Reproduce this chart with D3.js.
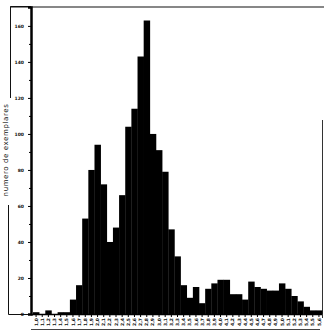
<!DOCTYPE html>
<html>
<head>
<meta charset="utf-8">
<script src="https://cdn.jsdelivr.net/npm/d3@7"></script>
<style>
	body { margin: 0; background: #fff; }
	svg { display: block; }
	text { font-family: "DejaVu Sans", sans-serif; fill: #111; }
</style>
</head>
<body>
<svg width="324" height="331"></svg>
<script>
// size classes (labels under each bar)
const classes = ["1,0","1,1","1,2","1,3","1,4","1,5","1,6","1,7","1,8","1,9",
	"2,0","2,1","2,2","2,3","2,4","2,5","2,6","2,7","2,8","2,9",
	"3,0","3,1","3,2","3,3","3,4","3,5","3,6","3,7","3,8","3,9",
	"4,0","4,1","4,2","4,3","4,4","4,5","4,6","4,7","4,8","4,9",
	"5,0","5,1","5,2","5,3","5,4","5,5","5,6"]
// number of specimens per class
const counts = [1, 0, 2, 0, 1, 1, 8, 16, 53, 80,
	94, 72, 40, 48, 66, 104, 114, 143, 163, 100,
	91, 79, 47, 32, 16, 9, 15, 6, 14, 17,
	19, 19, 11, 11, 8, 18, 15, 14, 13, 13,
	17, 14, 10, 7, 4, 2, 2]
const yTicks = [0, 20, 40, 60, 80, 100, 120, 140, 160]
const yLabel = "numero de exemplares"

const svg = d3.select("svg")
const m = {left: 31, right: 322, top: 7, bottom: 314}

const x = d3.scaleBand().domain(classes).range([m.left + 2, m.right]).padding(0)
const y = d3.scaleLinear().domain([0, 170.5]).range([m.bottom, m.top])

// frame
svg.append("line").attr("x1", 10).attr("x2", 324).attr("y1", m.top).attr("y2", m.top)
	.attr("stroke", "#111").attr("stroke-width", 1.2)
svg.append("line").attr("x1", 322.5).attr("x2", 322.5).attr("y1", 120).attr("y2", 318)
	.attr("stroke", "#333").attr("stroke-width", 1)

// bracket around the y label
svg.append("path").attr("d", "M10.5,98V6.5H31")
	.attr("fill", "none").attr("stroke", "#111").attr("stroke-width", 1)
svg.append("path").attr("d", "M8.5,205V314.5H31")
	.attr("fill", "none").attr("stroke", "#111").attr("stroke-width", 1)

// bars
svg.append("g")
	.selectAll("rect")
	.data(counts)
	.join("rect")
	.attr("x", (d, i) => x(classes[i]))
	.attr("width", x.bandwidth() + 0.3)
	.attr("y", d => y(d))
	.attr("height", d => y(0) - y(d))
	.attr("fill", "#000")

// y axis
const yAxis = svg.append("g")
	.attr("transform", "translate(" + m.left + ",0)")
	.call(d3.axisLeft(y).tickValues(yTicks).tickSize(3).tickPadding(4))
yAxis.select(".domain").attr("stroke-width", 2.5)
yAxis.selectAll("text").attr("font-size", 4.5).attr("font-weight", "bold")
svg.append("g")
	.attr("transform", "translate(" + m.left + ",0)")
	.call(d3.axisLeft(y).tickValues(d3.range(10, 170, 20)).tickSize(2).tickFormat(""))
	.select(".domain").remove()

svg.append("text")
	.attr("transform", "translate(8,150) rotate(-90)")
	.attr("text-anchor", "middle")
	.attr("font-size", 7)
	.attr("letter-spacing", 0.6)
	.text(yLabel)

// x axis
const xAxis = svg.append("g")
	.attr("transform", "translate(0," + m.bottom + ")")
	.call(d3.axisBottom(x).tickSize(3).tickPadding(2))
xAxis.select(".domain").attr("stroke-width", 1.4)
	.attr("d", "M" + m.left + ",0.5H" + m.right)
xAxis.selectAll("text")
	.attr("font-size", 4.5)
	.attr("font-weight", "bold")
	.attr("transform", "rotate(-90)")
	.attr("text-anchor", "end")
	.attr("x", -4)
	.attr("y", 0)
	.attr("dy", "0.35em")

svg.append("line").attr("x1", m.left).attr("x2", m.right - 2).attr("y1", 329.5).attr("y2", 329.5)
	.attr("stroke", "#444").attr("stroke-width", 1)
</script>
</body>
</html>
